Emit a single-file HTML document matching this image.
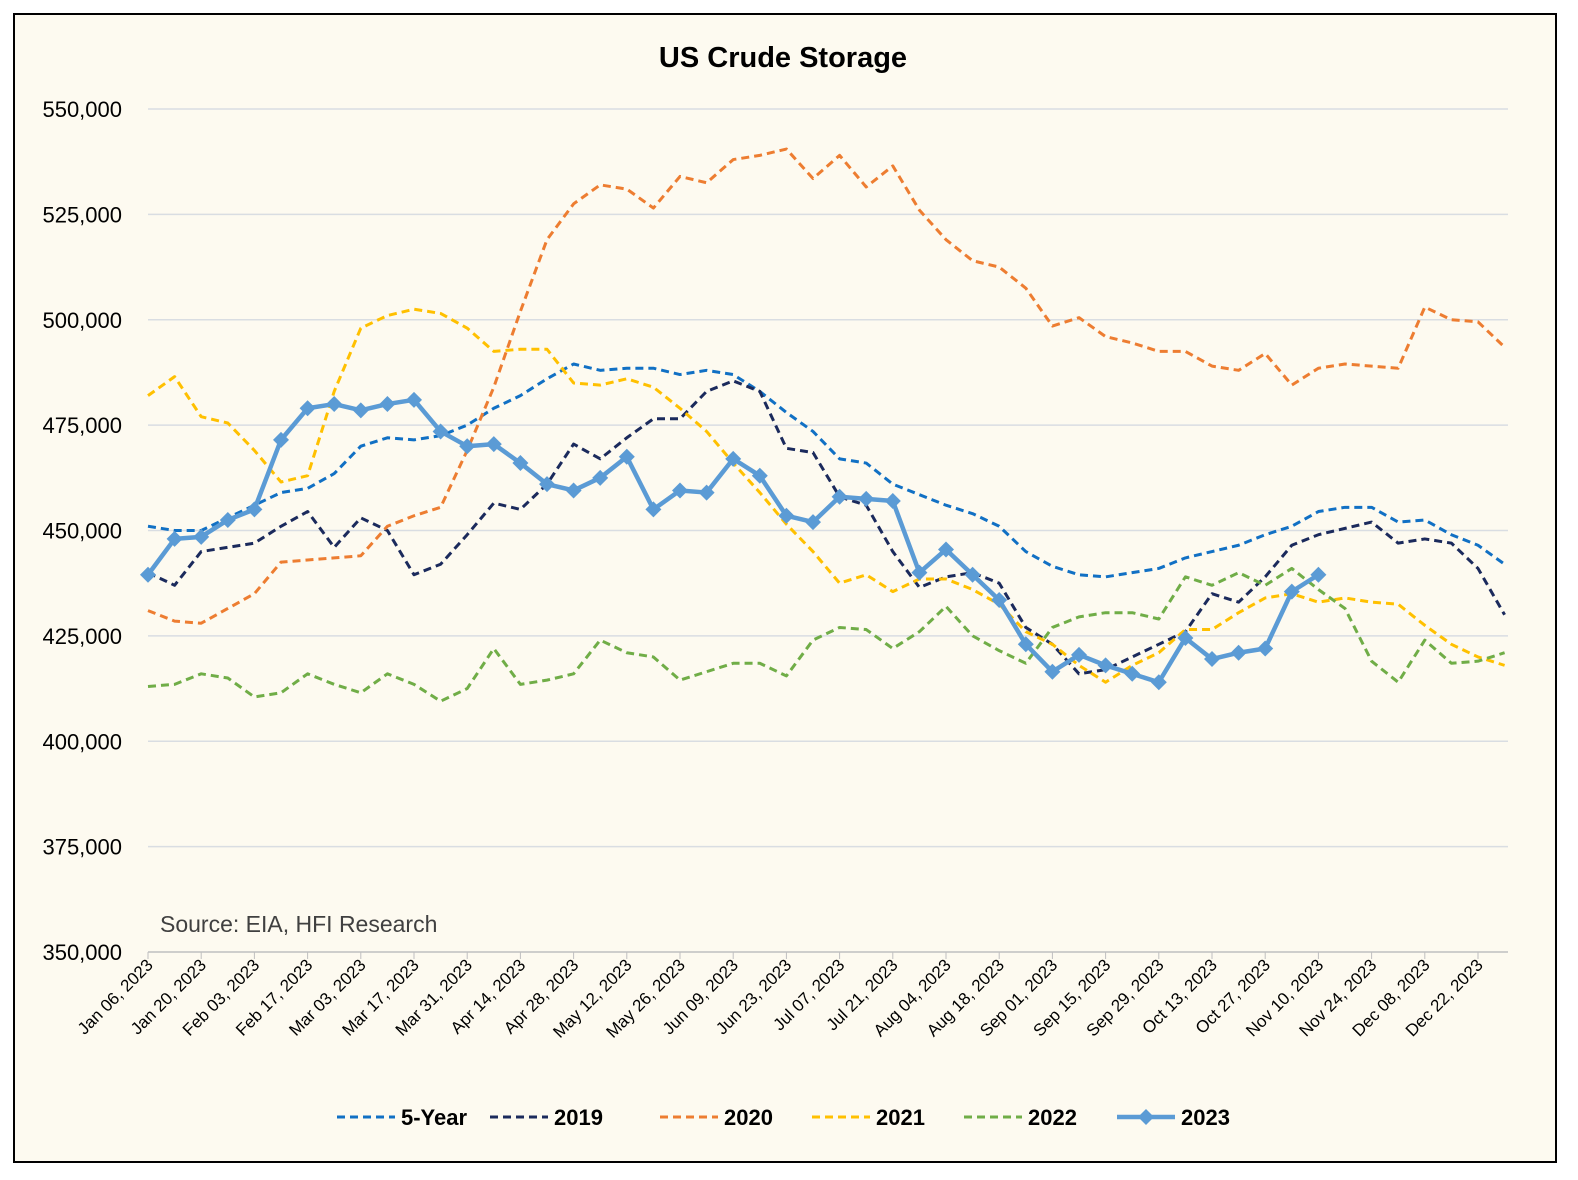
<!DOCTYPE html>
<html><head><meta charset="utf-8"><style>
html,body{margin:0;padding:0;background:#fff;overflow:hidden;width:1578px;height:1180px;}
svg{display:block;font-family:"Liberation Sans",sans-serif;}
</style></head><body>
<svg width="1578" height="1180" viewBox="0 0 1578 1180">
<rect x="14" y="14" width="1542" height="1148" fill="#fdfaf0" stroke="#000" stroke-width="2"/>
<text x="783" y="67" text-anchor="middle" font-size="29" font-weight="bold" fill="#000">US Crude Storage</text>
<g id="grid"></g><g id="yticks"></g><g id="xticks"></g><g id="series"></g>
<text x="160" y="932" font-size="23" fill="#404040">Source: EIA, HFI Research</text>
<g id="legend"></g>
</svg>
<script>
const yTickValues=[350000,375000,400000,425000,450000,475000,500000,525000,550000];
const xLabels=["Jan 06, 2023","Jan 20, 2023","Feb 03, 2023","Feb 17, 2023","Mar 03, 2023","Mar 17, 2023","Mar 31, 2023","Apr 14, 2023","Apr 28, 2023","May 12, 2023","May 26, 2023","Jun 09, 2023","Jun 23, 2023","Jul 07, 2023","Jul 21, 2023","Aug 04, 2023","Aug 18, 2023","Sep 01, 2023","Sep 15, 2023","Sep 29, 2023","Oct 13, 2023","Oct 27, 2023","Nov 10, 2023","Nov 24, 2023","Dec 08, 2023","Dec 22, 2023"];
const seriesNames=["5-Year","2019","2020","2021","2022","2023"];
const fiveYear=[451,450,450,453,456,459,460,463.5,470,472,471.5,472.5,475,479,482,486,489.5,488,488.5,488.5,487,488,487,483,478,473.5,467,466,461,458.5,456,454,451,445,441.5,439.5,439,440,441,443.5,445,446.5,449,451,454.5,455.5,455.5,452,452.5,449,446.5,442];
const y2019=[440,437,445,446,447,451,454.5,446,453,450,439.5,442,449,456.5,455,461,470.5,467,472,476.5,476.5,483,485.5,483,469.5,468.5,458,456,445,436.5,439,440,437.5,427,423,416,417,420,423,426,435,433,439,446.5,449,450.5,452,447,448,447,441,430];
const y2020=[431,428.5,428,431.5,435,442.5,443,443.5,444,451,453.5,455.5,469,484,502,519,527.5,532,531,526.5,534,532.5,538,539,540.5,533.5,539,531.5,536.5,526,519,514,512.5,507.5,498.5,500.5,496,494.5,492.5,492.5,489,488,492,484.5,488.5,489.5,489,488.5,503,500,499.5,493.5];
const y2021=[482,486.5,477,475.5,469,461.5,463,483,498,501,502.5,501.5,498,492.5,493,493,485,484.5,486,484,479,473.5,466,459,451.5,445,437.5,439.5,435.5,438.5,438.5,436,432.5,426,423,418,414,418,421,426.5,426.5,430.5,434,435,433,434,433,432.5,427.5,423,420,418];
const y2022=[413,413.5,416,415,410.5,411.5,416,413.5,411.5,416,413.5,409.5,412.5,422,413.5,414.5,416,424,421,420,414.5,416.5,418.5,418.5,415.5,424,427,426.5,422,426,432,425,421.5,418.5,427,429.5,430.5,430.5,429,439,437,440,437,441,436,431.5,419,414,424,418.5,419,421];
const y2023=[439.5,448,448.5,452.5,455,471.5,479,480,478.5,480,481,473.5,470,470.5,466,461,459.5,462.5,467.5,455,459.5,459,467,463,453.5,452,458,457.5,457,440,445.5,439.5,433.5,423,416.5,420.5,418,416,414,424.5,419.5,421,422,435.5,439.5];

const NS="http://www.w3.org/2000/svg";
const X0=148,STEP=26.6,Y0=952,Y1=109,VMIN=350000,VMAX=550000;
const xs=i=>X0+i*STEP;
const ys=v=>Y0-(v-VMIN)/(VMAX-VMIN)*(Y0-Y1);
const yk=v=>ys(v*1000); // series values are in thousands
function mk(tag,attrs,parent){const e=document.createElementNS(NS,tag);for(const k in attrs)e.setAttribute(k,attrs[k]);parent.appendChild(e);return e;}
const grid=document.getElementById('grid'),yt=document.getElementById('yticks'),xt=document.getElementById('xticks'),sg=document.getElementById('series'),lg=document.getElementById('legend');
yTickValues.forEach(v=>{
  if(v>VMIN){const l=mk('line',{x1:X0,x2:1508,y1:ys(v),y2:ys(v),stroke:'#d9dde2','stroke-width':1.5},grid);
  
  }
  const t=mk('text',{x:122,y:ys(v)+8,'text-anchor':'end','font-size':22,fill:'#000'},yt);
  t.textContent=v.toLocaleString('en-US');
  
  
});
const ax=mk('line',{x1:X0,x2:1508,y1:Y0,y2:Y0,stroke:'#bfbfbf','stroke-width':1.5},grid);


xLabels.forEach((s,i)=>{
  const x=xs(i*2);
  mk('line',{x1:x,x2:x,y1:Y0,y2:Y0+7,stroke:'#bfbfbf'},xt);
  const t=mk('text',{x:x+6,y:Y0+14,'text-anchor':'end','font-size':17,fill:'#000',transform:`rotate(-45 ${x+6} ${Y0+14})`},xt);
  t.textContent=s;
  
  
});
const data=[fiveYear,y2019,y2020,y2021,y2022,y2023];
const colors=['#1170c4','#1b2a5c','#ed7d31','#ffc000','#70ad47','#5b9bd5'];
data.forEach((d,si)=>{
  const pts=d.map((v,i)=>xs(i)+','+yk(v)).join(' ');
  const last=si===5;
  const p=mk('polyline',{points:pts,fill:'none',stroke:colors[si],'stroke-width':last?4.5:3,'stroke-dasharray':last?'none':'8 5','stroke-linejoin':'round'},sg);
  
  
  if(last){d.forEach((v,i)=>{const x=xs(i),y=yk(v);
    const m=mk('polygon',{points:`${x},${y-8} ${x+8},${y} ${x},${y+8} ${x-8},${y}`,fill:colors[si]},sg);
    
    });}
});
const lx=[337,490,660,812,964,1117];
seriesNames.forEach((n,i)=>{
  const g=mk('g',{},lg);
  
  
  const last=i===5;
  mk('line',{x1:lx[i],x2:lx[i]+58,y1:1117,y2:1117,stroke:colors[i],'stroke-width':last?4.5:3,'stroke-dasharray':last?'none':'8 5'},g);
  if(last){const c=lx[i]+29;mk('polygon',{points:`${c},1109 ${c+8},1117 ${c},1125 ${c-8},1117`,fill:colors[i]},g);}
  const t=mk('text',{x:lx[i]+64,y:1125,'font-size':22,'font-weight':'bold',fill:'#000'},g);
  t.textContent=n;
});
</script>
</body></html>
